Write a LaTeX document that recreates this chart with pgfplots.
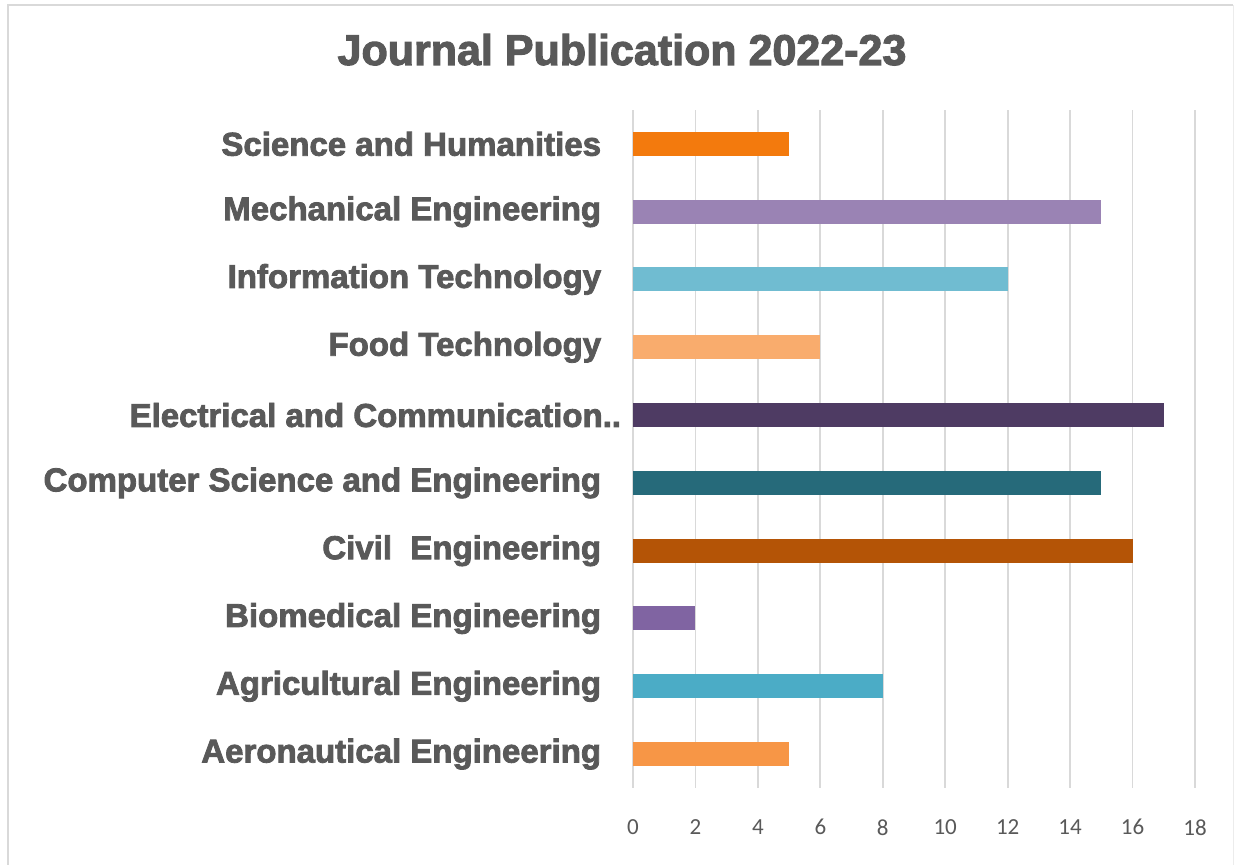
\documentclass[border=0pt]{standalone}
\usepackage{pgfplots}
\pgfplotsset{compat=1.18}
\usepackage{fontspec}
\setmainfont{Liberation Sans}
\newfontfamily\heavy{Liberation Sans Bold}[FakeBold=2.5]
\newfontfamily\tickfont{Carlito}

\definecolor{labgray}{HTML}{595959}
\definecolor{gridgray}{HTML}{D9D9D9}
\definecolor{cAero}{HTML}{F79646}
\definecolor{cAgri}{HTML}{4BACC6}
\definecolor{cBio}{HTML}{8064A2}
\definecolor{cCivil}{HTML}{B45406}
\definecolor{cCSE}{HTML}{266A7A}
\definecolor{cECE}{HTML}{4E3B63}
\definecolor{cFood}{HTML}{F9AC6D}
\definecolor{cIT}{HTML}{70BCD1}
\definecolor{cMech}{HTML}{9A83B4}
\definecolor{cSH}{HTML}{F37A0D}

\begin{document}
\begin{tikzpicture}
\path[use as bounding box] (0,0) rectangle (617.5pt,432.5pt);
\draw[gridgray, line width=1pt] (4pt,0) -- (4pt,430pt) -- (616.5pt,430pt);
\draw[gridgray!50, line width=0.5pt] (616.5pt,430pt) -- (616.5pt,0);

\node[anchor=base, text=labgray, font=\heavy\fontsize{21.5}{21.5}\selectfont]
  at (311pt,400pt) {Journal Publication 2022-23};

\begin{axis}[
  at={(316.5pt,38.5pt)}, anchor=south west,
  scale only axis,
  width=281pt, height=339pt,
  xmin=0, xmax=18, ymin=-0.5, ymax=9.5,
  xtick={0,2,...,18},
  ytick={0,...,9},
  yticklabels={Aeronautical Engineering, Agricultural Engineering,
    Biomedical Engineering, Civil\ \ Engineering,
    Computer Science and Engineering,
    {Electrical and Communication..\hspace*{-10pt}},
    Food Technology, Information Technology,
    Mechanical Engineering, Science and Humanities},
  axis line style={draw=none},
  tick style={draw=none},
  xmajorgrids,
  major grid style={draw=gridgray, line width=0.9pt},
  xbar, bar width=12pt, bar shift=0pt,
  yticklabel style={anchor=east, inner sep=0pt, xshift=-11.5pt,
    text=labgray, font=\heavy\fontsize{16.5}{16.5}\selectfont},
  xticklabel style={anchor=north, inner sep=0pt, yshift=-15.5pt,
    text=labgray, font=\tickfont\fontsize{11.5}{11.5}\selectfont},
  /pgf/number format/assume math mode=true,
]
\addplot[fill=cAero, draw=none] coordinates {(5,0)};
\addplot[fill=cAgri, draw=none] coordinates {(8,1)};
\addplot[fill=cBio, draw=none] coordinates {(2,2)};
\addplot[fill=cCivil, draw=none] coordinates {(16,3)};
\addplot[fill=cCSE, draw=none] coordinates {(15,4)};
\addplot[fill=cECE, draw=none] coordinates {(17,5)};
\addplot[fill=cFood, draw=none] coordinates {(6,6)};
\addplot[fill=cIT, draw=none] coordinates {(12,7)};
\addplot[fill=cMech, draw=none] coordinates {(15,8)};
\addplot[fill=cSH, draw=none] coordinates {(5,9)};
\end{axis}
\end{tikzpicture}
\end{document}
